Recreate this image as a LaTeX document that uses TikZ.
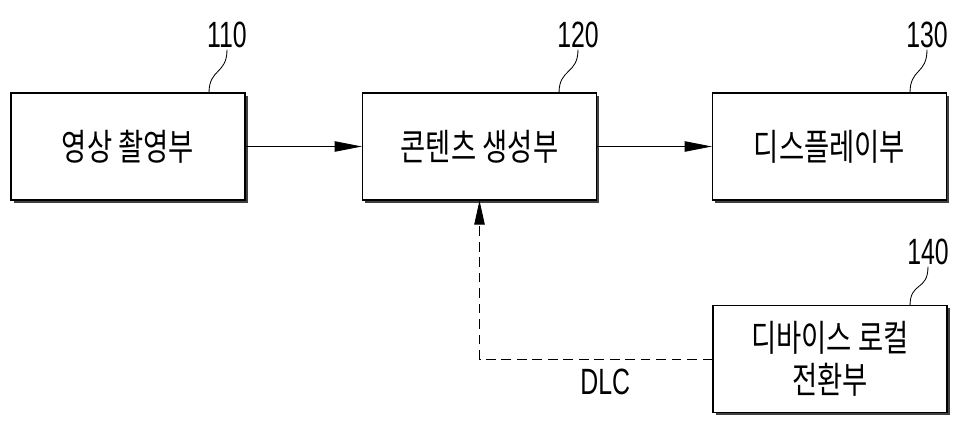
\documentclass[tikz,border=0pt]{standalone}
\usepackage{fontspec}
\usetikzlibrary{arrows.meta, shadows}
\newfontfamily\krfont[FakeStretch=0.75]{Noto Sans CJK KR}
\newfontfamily\numfont[FakeStretch=0.68]{Liberation Sans}
\tikzset{
  blk/.style ={rectangle, draw=black, fill=white, line width=0.9pt,
               minimum width=5.85cm, minimum height=2.67cm, inner sep=0pt, align=center,
               font=\krfont\fontsize{26}{30}\selectfont,
               drop shadow={shadow xshift=0.07cm, shadow yshift=-0.07cm, fill=black!75, opacity=1}},
  lbl/.style ={inner sep=1pt, font=\numfont\fontsize{26}{28}\selectfont},
  ldr/.style ={line width=0.6pt},
  flow/.style={-{Triangle[length=0.68cm, width=0.26cm]}, line width=0.6pt},
  dline/.style={-{Triangle[length=0.6cm, width=0.26cm]}, line width=0.6pt, dash pattern=on 7pt off 4pt},
}
\begin{document}
\begin{tikzpicture}[x=0.025cm, y=-0.025cm]
    \useasboundingbox (0,0) rectangle (961,433);
    % blocks
    \node[blk] (b110) at (128,146.5) {영상 촬영부};
    \node[blk] (b120) at (479.5,146.5) {콘텐츠 생성부};
    \node[blk] (b130) at (829.5,146.5) {디스플레이부};
    \node[blk] (b140) at (830,359) {디바이스 로컬\\전환부};
    % reference numerals
    \node[lbl] (n110) at (227,35) {110};
    \node[lbl] (n120) at (578,35) {120};
    \node[lbl] (n130) at (927,35) {130};
    \node[lbl] (n140) at (928,252) {140};
    \coordinate (t110) at (209,93);
    \coordinate (t120) at (559,93);
    \coordinate (t130) at (910,93);
    \coordinate (t140) at (910,306);
    \foreach \n in {110,120,130,140}
      \draw[ldr] (t\n) .. controls +(0,-25) and +(0,25) .. (n\n.south);

    \draw[flow] (b110) -- (b120);
    \draw[flow] (b120) -- (b130);
    \draw[dline] (b140.west) -| node[pos=0.23, below=6pt, lbl] (dlc) {DLC} (b120.south);
  \end{tikzpicture}
\end{document}
